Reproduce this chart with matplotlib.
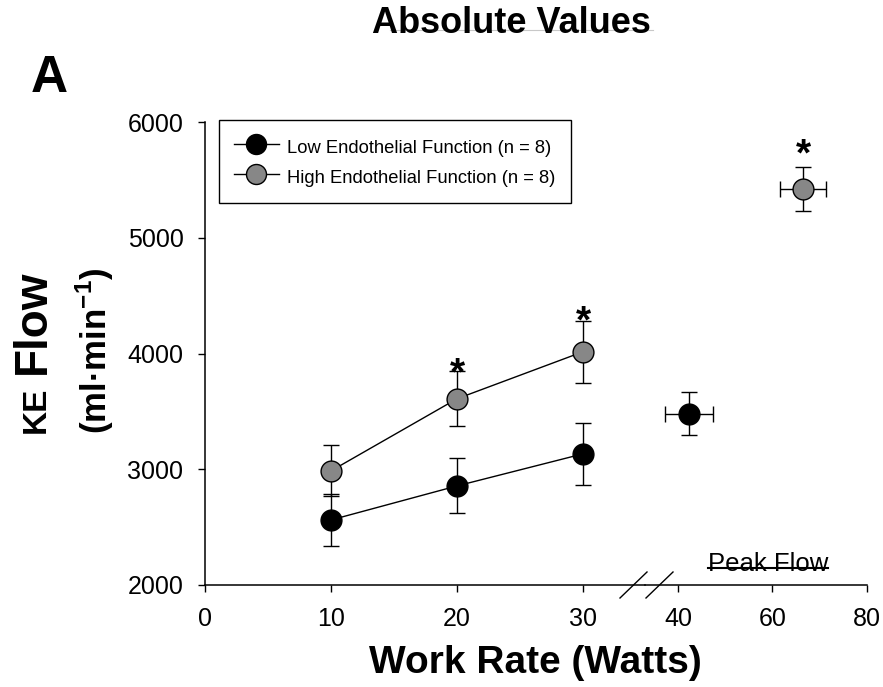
import numpy as np
import matplotlib
matplotlib.use("Agg")
import matplotlib.pyplot as plt
from matplotlib.lines import Line2D

plt.rcParams['font.family'] = ['Liberation Sans', 'DejaVu Sans']
plt.rcParams['mathtext.fontset'] = 'custom'
plt.rcParams['mathtext.rm'] = 'Liberation Sans'
plt.rcParams['mathtext.bf'] = 'Liberation Sans:bold'

# data
work_rate = [10, 20, 30]
low_flow = [2562, 2856, 3133]
low_sem = [222, 238, 268]
high_flow = [2986, 3609, 4015]
high_sem = [220, 238, 268]

peak_low_x, peak_low_xerr = 42.3, 5.1
peak_low_y, peak_low_yerr = 3479, 185
peak_high_x, peak_high_xerr = 66.5, 4.9
peak_high_y, peak_high_yerr = 5425, 190

labels = ["Low Endothelial Function (n = 8)", "High Endothelial Function (n = 8)"]
left_ticks = [0, 10, 20, 30]
right_ticks = [40, 60, 80]
y_ticks = [2000, 3000, 4000, 5000, 6000]

W, H = 883, 687
def fx(px):
    return px / W
def fy(py):
    return 1 - py / H

GRAY = '#878787'
MS = 15
FS = 18

fig = plt.figure(figsize=(8.83, 6.87), dpi=100)
ax1 = fig.add_axes([fx(205), fy(585), fx(645) - fx(205), fy(122) - fy(585)])
ax2 = fig.add_axes([fx(645), fy(585), fx(867) - fx(645), fy(122) - fy(585)])

for ax in (ax1, ax2):
    ax.set_ylim(2000, 6000)
    ax.spines['top'].set_visible(False)
    ax.spines['right'].set_visible(False)
    ax.spines['bottom'].set_linewidth(1.1)
    ax.spines['left'].set_linewidth(1.1)
    ax.tick_params(direction='out', length=5, width=1, labelsize=FS, pad=10.5)
    ax.patch.set_alpha(0)

ax1.set_xlim(0, 34.92)
ax2.set_xlim(33.02, 80)
ax1.set_xticks(left_ticks)
ax2.set_xticks(right_ticks)
ax1.set_yticks(y_ticks)
ax2.spines['left'].set_visible(False)
ax2.tick_params(axis='y', left=False, labelleft=False)

ebkw = dict(fmt='none', ecolor='black', elinewidth=1, capsize=5.5, capthick=1, zorder=2)

# submaximal stages
ax1.errorbar(work_rate, low_flow, yerr=low_sem, **ebkw)
ax1.errorbar(work_rate, high_flow, yerr=high_sem, **ebkw)
l_low, = ax1.plot(work_rate, low_flow, '-o', color='black', lw=1, ms=MS,
                  mfc='black', mec='black', mew=1, zorder=3)
l_high, = ax1.plot(work_rate, high_flow, '-o', color='black', lw=1, ms=MS,
                   mfc=GRAY, mec='black', mew=1, zorder=3)

# peak values
ax2.errorbar([peak_low_x], [peak_low_y], xerr=[peak_low_xerr], yerr=[peak_low_yerr], **ebkw)
ax2.errorbar([peak_high_x], [peak_high_y], xerr=[peak_high_xerr], yerr=[peak_high_yerr], **ebkw)
ax2.plot([peak_low_x], [peak_low_y], 'o', ms=MS, mfc='black', mec='black', mew=1, zorder=3)
ax2.plot([peak_high_x], [peak_high_y], 'o', ms=MS, mfc=GRAY, mec='black', mew=1, zorder=3)

# significance stars
star_kw = dict(textcoords='offset points', ha='center', va='baseline',
               fontsize=28, fontweight='bold')
for i, off in zip([1, 2], [-9.4, -8.6]):
    ax1.annotate('*', xy=(work_rate[i], high_flow[i] + high_sem[i]), xytext=(0, off), **star_kw)
ax2.annotate('*', xy=(peak_high_x, peak_high_y + peak_high_yerr), xytext=(0, 0.7), **star_kw)

# legend
leg = ax1.legend([l_low, l_high], labels, loc='upper left',
                 bbox_to_anchor=(fx(219), fy(120)), bbox_transform=fig.transFigure,
                 fontsize=13.2, handlelength=2.45, handletextpad=0.45, handleheight=1.55,
                 borderpad=0.82, labelspacing=0.4, borderaxespad=0,
                 fancybox=False, framealpha=1, markerscale=0.96)
leg.get_frame().set_edgecolor('black')
leg.get_frame().set_linewidth(1)

# axis break marks
for x0, x1 in [(620, 647), (646, 673)]:
    fig.add_artist(Line2D([fx(x0), fx(x1)], [fy(598), fy(572)], color='black',
                          lw=1, transform=fig.transFigure))

# texts
fig.text(fx(511), fy(33), 'Absolute Values', ha='center', va='baseline',
         fontsize=26, fontweight='bold')
fig.add_artist(Line2D([fx(390), fx(653)], [fy(30), fy(30)], color='#c8c8c8',
                      lw=0.8, transform=fig.transFigure))
fig.text(fx(31), fy(92), 'A', ha='left', va='baseline', fontsize=37, fontweight='bold')
fig.text(fx(535), fy(663), 'Work Rate (Watts)', ha='center', va='center',
         fontsize=28, fontweight='bold')

fig.text(fx(45), fy(433), 'KE', rotation=90, rotation_mode='anchor',
         ha='left', va='baseline', fontsize=24, fontweight='bold')
fig.text(fx(45), fy(374), 'Flow', rotation=90, rotation_mode='anchor',
         ha='left', va='baseline', fontsize=33, fontweight='bold')
fig.text(fx(95), fy(351), r'(ml·min$^{\mathbf{-1}}$)', rotation=90,
         ha='center', va='center', fontsize=25, fontweight='bold')

peak_txt = fig.text(fx(708), fy(571), 'Peak Flow', ha='left', va='baseline', fontsize=18.5)
fig.canvas.draw()
bb = peak_txt.get_window_extent().transformed(fig.transFigure.inverted())
fig.add_artist(Line2D([bb.x0, bb.x1], [fy(568), fy(568)], color='black', lw=1.5,
                      transform=fig.transFigure))

plt.savefig("out.png", dpi=100)
